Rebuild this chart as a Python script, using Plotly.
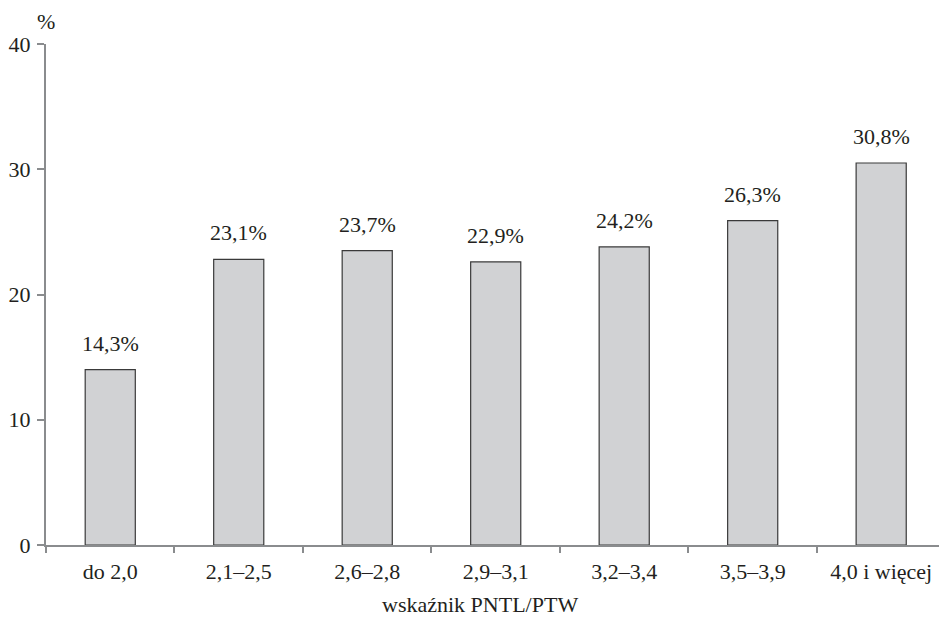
import plotly.graph_objects as go

categories = ["do 2,0", "2,1–2,5", "2,6–2,8", "2,9–3,1", "3,2–3,4", "3,5–3,9", "4,0 i więcej"]
bar_values = [14.0, 22.8, 23.5, 22.6, 23.8, 25.9, 30.5]
bar_labels = ["14,3%", "23,1%", "23,7%", "22,9%", "24,2%", "26,3%", "30,8%"]
y_ticks = [0, 10, 20, 30, 40]
x_title = "wskaźnik PNTL/PTW"
y_unit = "%"

FONT = "Liberation Serif"
FS = 22
TXT = "#231f20"
AX = "#8a8c8e"

fig = go.Figure()
fig.add_trace(go.Bar(
    x=categories, y=bar_values, width=0.39,
    marker=dict(color="#d1d2d4", line=dict(color="#3a3a3a", width=1.2)),
    hoverinfo="skip",
))

for c, v, t in zip(categories, bar_values, bar_labels):
    fig.add_annotation(x=c, y=v, text=t, showarrow=False, yanchor="bottom",
                       yshift=12, font=dict(family=FONT, size=FS, color=TXT))

fig.add_annotation(xref="paper", yref="paper", x=0.486, y=-0.118, text=x_title,
                   showarrow=False, xanchor="center", yanchor="middle",
                   font=dict(family=FONT, size=FS, color=TXT))
fig.add_annotation(xref="paper", yref="paper", x=0.0, y=1.044, text=y_unit,
                   showarrow=False, xanchor="center", yanchor="middle",
                   font=dict(family=FONT, size=FS, color=TXT))

fig.update_layout(
    width=939, height=625,
    margin=dict(l=46, r=0, t=44, b=80, autoexpand=False),
    paper_bgcolor="white", plot_bgcolor="white",
    showlegend=False,
    font=dict(family=FONT, size=FS, color=TXT),
    xaxis=dict(
        type="category", range=[-0.5, 6.45], tickson="boundaries",
        ticks="outside", ticklen=6, tickwidth=1.5, tickcolor=AX,
        showline=True, linecolor=AX, linewidth=2, showgrid=False,
        zeroline=False, ticklabelstandoff=6, automargin=False,
        tickfont=dict(family=FONT, size=FS, color=TXT),
    ),
    yaxis=dict(
        range=[0, 40], tickvals=y_ticks, ticks="outside", ticklen=7,
        tickwidth=1.5, tickcolor=AX, showline=True, linecolor=AX, linewidth=2,
        showgrid=False, zeroline=False, ticklabelstandoff=2, automargin=False,
        tickfont=dict(family=FONT, size=FS, color=TXT),
    ),
)

fig.write_html("out.html", config={"displayModeBar": False},
               post_script="document.body.style.margin='0';document.body.style.overflow='hidden';")
